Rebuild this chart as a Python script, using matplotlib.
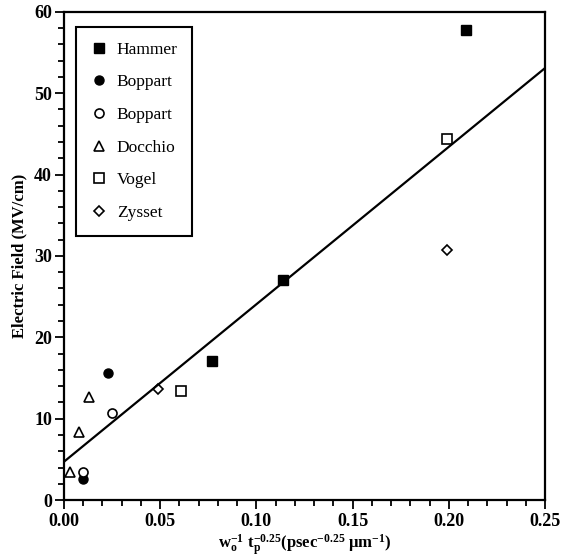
import matplotlib
matplotlib.use('Agg')
import matplotlib.pyplot as plt
import numpy as np
from matplotlib.ticker import MultipleLocator

plt.rcParams['font.family'] = ['Liberation Serif', 'DejaVu Serif']
plt.rcParams['mathtext.fontset'] = 'custom'
plt.rcParams['mathtext.rm'] = 'Liberation Serif:bold'
plt.rcParams['mathtext.it'] = 'Liberation Serif:bold'
plt.rcParams['mathtext.bf'] = 'Liberation Serif:bold'

# Werte
hammer_x = [0.209, 0.114, 0.077]
hammer_y = [57.8, 27.0, 17.1]
boppart_f_x = [0.023, 0.010]
boppart_f_y = [15.6, 2.6]
boppart_o_x = [0.025, 0.010]
boppart_o_y = [10.7, 3.4]
docchio_x = [0.013, 0.008, 0.003]
docchio_y = [12.7, 8.4, 3.4]
vogel_x = [0.061, 0.199]
vogel_y = [13.4, 44.4]
zysset_x = [0.049, 0.199]
zysset_y = [13.6, 30.7]

# Ausgleichsgerade
fit_x = [0.0, 0.25]
fit_y = [4.7, 53.1]

fig = plt.figure(figsize=(5.65, 5.6), dpi=100)
ax = fig.add_axes([0.113, 0.107, 0.852, 0.872])

ms = 6.5
ax.plot(hammer_x, hammer_y, 's', color='black', ms=ms, label='Hammer')
ax.plot(boppart_f_x, boppart_f_y, 'o', color='black', ms=ms, label='Boppart')
ax.plot(boppart_o_x, boppart_o_y, 'o', mfc='white', mec='black', mew=1.2, ms=ms, label='Boppart')
ax.plot(docchio_x, docchio_y, '^', mfc='white', mec='black', mew=1.2, ms=ms, label='Docchio')
ax.plot(vogel_x, vogel_y, 's', mfc='white', mec='black', mew=1.2, ms=ms, label='Vogel')
ax.plot(zysset_x, zysset_y, 'D', mfc='white', mec='black', mew=1.2, ms=5, label='Zysset')
ax.plot(fit_x, fit_y, '-', color='black', lw=1.6)

ax.set_xlim(0, 0.25)
ax.set_ylim(0, 60)
ax.xaxis.set_major_locator(MultipleLocator(0.05))
ax.xaxis.set_minor_locator(MultipleLocator(0.01))
ax.yaxis.set_major_locator(MultipleLocator(10))
ax.yaxis.set_minor_locator(MultipleLocator(2))
ax.xaxis.set_major_formatter(plt.FormatStrFormatter('%.2f'))
ax.tick_params(which='both', direction='out', width=1.3, labelsize=13)
ax.tick_params(which='major', length=6.5)
ax.tick_params(which='minor', length=4)
ax.tick_params(axis='x', pad=3)
ax.tick_params(axis='y', pad=2)
for lab in ax.get_xticklabels() + ax.get_yticklabels():
    lab.set_fontweight('bold')
for s in ax.spines.values():
    s.set_linewidth(1.6)

ax.set_ylabel('Electric Field (MV/cm)', fontsize=12, fontweight='bold', labelpad=5)
ax.set_xlabel(r'$\mathregular{w_o^{-1}\ t_p^{-0.25}}$(psec$^{-0.25}$ μm$^{-1}$)',
              fontsize=12, fontweight='bold', labelpad=2)

leg = ax.legend(loc='upper left', bbox_to_anchor=(0.025, 0.969), fontsize=12.5,
                frameon=True, fancybox=False, edgecolor='black', framealpha=1,
                borderpad=0.85, labelspacing=0.95, handletextpad=0.5, handlelength=1.0,
                borderaxespad=0)
leg.get_frame().set_linewidth(1.5)

fig.savefig('out.png', dpi=100)
